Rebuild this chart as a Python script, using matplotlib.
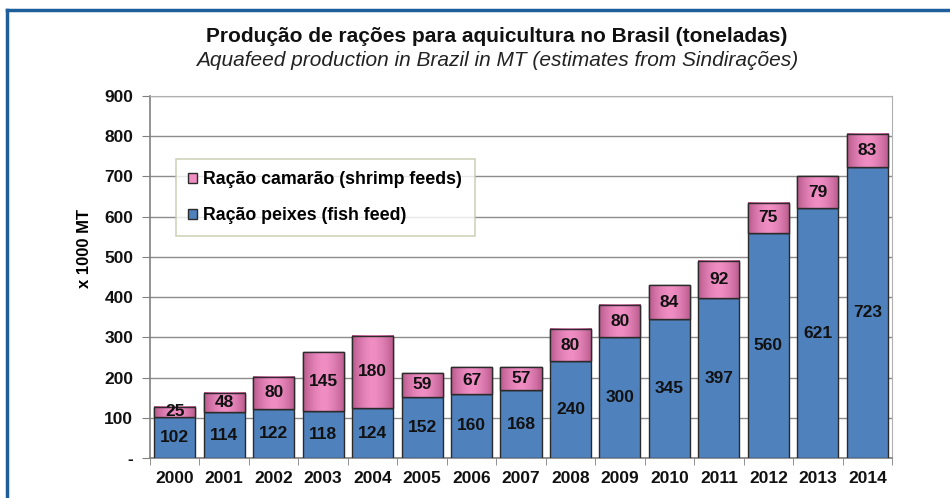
import matplotlib.pyplot as plt
import matplotlib.colors as mcolors
import numpy as np
from matplotlib.lines import Line2D

plt.rcParams['font.family'] = ['Liberation Sans', 'DejaVu Sans']

years = ['2000', '2001', '2002', '2003', '2004', '2005', '2006', '2007',
         '2008', '2009', '2010', '2011', '2012', '2013', '2014']
fish_feed = [102, 114, 122, 118, 124, 152, 160, 168, 240, 300, 345, 397, 560, 621, 723]
shrimp_feed = [25, 48, 80, 145, 180, 59, 67, 57, 80, 80, 84, 92, 75, 79, 83]

title = 'Produção de rações para aquicultura no Brasil (toneladas)'
subtitle = 'Aquafeed production in Brazil in MT (estimates from Sindirações)'
label_shrimp = 'Ração camarão (shrimp feeds)'
label_fish = 'Ração peixes (fish feed)'

BLUE = '#4F81BD'
PINK = '#F08EC4'
PINK_DARK = '#B95A8C'
EDGE = '#2b2b2b'

fig = plt.figure(figsize=(9.5, 4.98), dpi=100)
ax = fig.add_axes([150 / 950, 1 - 458 / 498, 742 / 950, 362 / 498])

x = np.arange(len(years))
width = 0.83

fish_bars = ax.bar(x, fish_feed, width, color=BLUE, edgecolor=EDGE, linewidth=1.0, zorder=3)
shrimp_bars = ax.bar(x, shrimp_feed, width, bottom=fish_feed, color=PINK,
                     edgecolor=EDGE, linewidth=1.0, zorder=3)

# shaded pink segments (darker toward the edges)
grad = np.abs(np.linspace(-1, 1, 64)) ** 1.6
cmap = mcolors.LinearSegmentedColormap.from_list('pinkshade', [PINK, PINK_DARK])
for xi, b, h in zip(x, fish_feed, shrimp_feed):
    ax.imshow(grad[np.newaxis, :], cmap=cmap, aspect='auto', zorder=3.5,
              extent=(xi - width / 2, xi + width / 2, b, b + h), interpolation='bilinear')
# outline again on top of the shading
ax.bar(x, shrimp_feed, width, bottom=fish_feed, fill=False, edgecolor=EDGE,
       linewidth=1.0, zorder=4)

for xi, f, s in zip(x, fish_feed, shrimp_feed):
    ax.text(xi, f / 2, str(f), ha='center', va='center', fontsize=12.5,
            fontweight='bold', color='#111111', zorder=5)
    ax.text(xi, f + s / 2, str(s), ha='center', va='center', fontsize=12.5,
            fontweight='bold', color='#111111', zorder=5)

ax.set_xlim(-0.5, len(years) - 0.5)
ax.set_ylim(0, 900)
ax.set_yticks(range(0, 1000, 100))
ax.set_yticklabels(['-'] + [str(v) for v in range(100, 1000, 100)])
ax.set_xticks(x)
ax.set_xticklabels(years)
ax.set_xticks(np.arange(-0.5, len(years), 1.0), minor=True)
ax.tick_params(axis='x', which='major', length=0, pad=9)
ax.tick_params(axis='x', which='minor', length=5, color='#808080', direction='out')
ax.tick_params(axis='y', length=6, color='#808080', direction='out', pad=6)
for lab in ax.get_xticklabels() + ax.get_yticklabels():
    lab.set_fontweight('bold')
    lab.set_fontsize(12.5)
    lab.set_color('#111111')

ax.yaxis.grid(True, color='#8c8c8c', linewidth=1.0, zorder=0)
ax.set_axisbelow(True)
for side in ['top', 'right']:
    ax.spines[side].set_color('#b0b0b0')
for side in ['left', 'bottom']:
    ax.spines[side].set_color('#808080')
    ax.spines[side].set_linewidth(1.2)

ax.set_ylabel('x 1000 MT', fontsize=12, fontweight='bold')
ax.yaxis.set_label_coords(-58 / 742, (458 - 248) / 362)

handles = [shrimp_bars, fish_bars]
leg = ax.legend(handles, [label_shrimp, label_fish], loc='upper left',
                bbox_to_anchor=(26 / 742, (458 - 159) / 362),
                prop={'size': 12.75, 'weight': 'bold'},
                frameon=True, fancybox=False, edgecolor='#c4c8a8',
                handlelength=0.5, handleheight=0.5, handletextpad=0.35,
                labelspacing=1.05, borderpad=0.7, borderaxespad=0)
leg.get_frame().set_linewidth(1.2)
leg.set_zorder(6)

fig.text(497 / 950, 1 - 37 / 498, title, ha='center', va='center',
         fontsize=15, fontweight='bold', color='#111111')
fig.text(497 / 950, 1 - 61 / 498, subtitle, ha='center', va='center',
         fontsize=15, style='italic', color='#222222')

# blue frame
fig.add_artist(Line2D([7 / 950, 1], [1 - 10 / 498, 1 - 10 / 498],
                      transform=fig.transFigure, color='#1F5F99', linewidth=2.5))
fig.add_artist(Line2D([7 / 950, 7 / 950], [0, 1 - 10 / 498],
                      transform=fig.transFigure, color='#1F5F99', linewidth=2.5))

fig.savefig('out.png', dpi=100)
